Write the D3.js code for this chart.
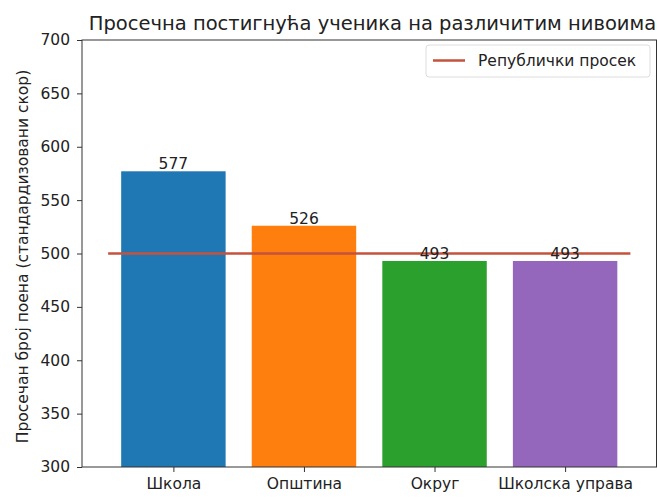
<!DOCTYPE html>
<html>
<head>
<meta charset="utf-8">
<script src="https://cdn.jsdelivr.net/npm/d3@7"></script>
<style>
  body { margin: 0; background: #fff; }
  text { font-family: "DejaVu Sans", sans-serif; fill: #222; }
</style>
</head>
<body>
<svg id="chart"></svg>
<script>
// podaci
const categories = ["Школа", "Општина", "Округ", "Школска управа"];
const scores = [577, 526, 493, 493];
const barColors = ["#1f77b4", "#ff7f0e", "#2ca02c", "#9467bd"];
const nationalAverage = 500;
const yTicks = [300, 350, 400, 450, 500, 550, 600, 650, 700];

const width = 657;
const height = 500;
const margin = { left: 82, right: 0.5, top: 40, bottom: 33 };

const svg = d3.select("#chart").attr("width", width).attr("height", height);

// x skala u "matplotlib" jedinicama (sredine stupaca su 0..3)
const xScale = d3.scaleLinear().domain([-0.7, 3.7]).range([margin.left, width - margin.right]);
const yScale = d3.scaleLinear().domain([300, 700]).range([height - margin.bottom, margin.top]);
const barWidth = 0.8;

// stupci
svg.selectAll("rect.bar")
    .data(scores)
    .enter()
    .append("rect")
    .attr("class", "bar")
    .attr("x", (d, i) => xScale(i - barWidth / 2))
    .attr("y", d => yScale(d))
    .attr("width", xScale(barWidth) - xScale(0))
    .attr("height", d => yScale(300) - yScale(d))
    .attr("fill", (d, i) => barColors[i]);

// republicki prosek
svg.append("line")
    .attr("x1", xScale(-0.5))
    .attr("x2", xScale(3.5))
    .attr("y1", yScale(nationalAverage))
    .attr("y2", yScale(nationalAverage))
    .attr("stroke", "#c4523c")
    .attr("stroke-width", 2.5);

// oznake vrijednosti
svg.selectAll("text.val")
    .data(scores)
    .enter()
    .append("text")
    .attr("class", "val")
    .attr("x", (d, i) => xScale(i))
    .attr("y", d => yScale(d) - 2)
    .attr("text-anchor", "middle")
    .style("font-size", "15.5px")
    .text(d => d);

// osi
const yAxis = svg.append("g")
    .attr("transform", "translate(" + margin.left + ",0)")
    .call(d3.axisLeft(yScale).tickValues(yTicks).tickSize(5).tickPadding(7));
const xAxis = svg.append("g")
    .attr("transform", "translate(0," + (height - margin.bottom) + ")")
    .call(d3.axisBottom(xScale).tickValues([0, 1, 2, 3]).tickFormat(i => categories[i]).tickSize(5).tickPadding(6));
[xAxis, yAxis].forEach(g => {
    g.select(".domain").remove();
    g.selectAll("line").attr("stroke", "#333");
    g.selectAll("text").style("font-size", "15.5px").style("font-family", "DejaVu Sans, sans-serif").attr("fill", "#222");
});

// okvir
svg.append("rect")
    .attr("x", margin.left)
    .attr("y", margin.top)
    .attr("width", width - margin.right - margin.left)
    .attr("height", height - margin.bottom - margin.top)
    .attr("fill", "none")
    .attr("stroke", "#333")
    .attr("stroke-width", 1);

// naslov
svg.append("text")
    .attr("x", (margin.left + width) / 2 + 3)
    .attr("y", 30)
    .attr("text-anchor", "middle")
    .style("font-size", "19.5px")
    .text("Просечна постигнућа ученика на различитим нивоима");

// oznaka y osi
svg.append("text")
    .attr("transform", "rotate(-90)")
    .attr("x", -((margin.top + height - margin.bottom) / 2) - 3)
    .attr("y", 28)
    .attr("text-anchor", "middle")
    .style("font-size", "15.5px")
    .text("Просечан број поена (стандардизовани скор)");

// legenda
const legend = svg.append("g").attr("transform", "translate(426,45)");
legend.append("rect")
    .attr("width", 224)
    .attr("height", 32)
    .attr("rx", 3)
    .attr("fill", "#fff")
    .attr("fill-opacity", 0.8)
    .attr("stroke", "#ddd");
legend.append("line")
    .attr("x1", 7).attr("x2", 39)
    .attr("y1", 15.5).attr("y2", 15.5)
    .attr("stroke", "#c4523c")
    .attr("stroke-width", 2.5);
legend.append("text")
    .attr("x", 52)
    .attr("y", 21)
    .style("font-size", "15.5px")
    .text("Републички просек");
</script>
</body>
</html>
